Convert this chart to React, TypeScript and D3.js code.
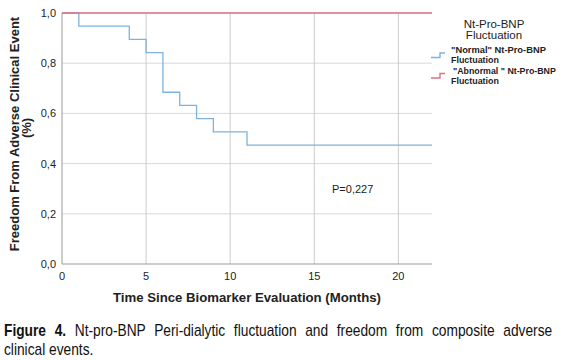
import React, { useEffect, useRef } from "react";
import * as d3 from "d3";

const normalTimes = [0, 1, 4, 5, 6, 7, 8, 9, 11, 22];
const normalSurv = [1, 18 / 19, 17 / 19, 16 / 19, 13 / 19, 12 / 19, 11 / 19, 10 / 19, 9 / 19, 9 / 19];
const abnormalTimes = [0, 22];
const abnormalSurv = [1, 1];
const xTicks = [0, 5, 10, 15, 20];
const yTicks = [0, 0.2, 0.4, 0.6, 0.8, 1.0];

const BLUE = "#7fb3dc";
const RED = "#e07080";

export default function App() {
  const ref = useRef<SVGSVGElement>(null);

  useEffect(() => {
    const svg = d3.select(ref.current);
    svg.selectAll("*").remove();

    const x = d3.scaleLinear().domain([0, 22]).range([62, 432]);
    const y = d3.scaleLinear().domain([0, 1]).range([264, 13]);
    const font = "Liberation Sans, Arial, sans-serif";

    // gridlines
    svg.append("g")
      .selectAll("line")
      .data(yTicks.filter((d) => d > 0))
      .join("line")
      .attr("x1", x(0)).attr("x2", x(22))
      .attr("y1", (d) => y(d)).attr("y2", (d) => y(d))
      .attr("stroke", "#d9d9e0").attr("stroke-width", 1);
    svg.append("g")
      .selectAll("line")
      .data(xTicks.filter((d) => d > 0))
      .join("line")
      .attr("x1", (d) => x(d)).attr("x2", (d) => x(d))
      .attr("y1", y(0)).attr("y2", y(1))
      .attr("stroke", "#cbcbcb").attr("stroke-width", 1);

    // axes lines
    svg.append("line").attr("x1", x(0)).attr("x2", x(22)).attr("y1", y(0)).attr("y2", y(0))
      .attr("stroke", "#9a9a9a").attr("stroke-width", 1);
    svg.append("line").attr("x1", x(0)).attr("x2", x(0)).attr("y1", y(0)).attr("y2", y(1))
      .attr("stroke", "#9a9a9a").attr("stroke-width", 1);

    // tick labels
    svg.append("g").selectAll("text").data(yTicks).join("text")
      .attr("x", 56).attr("y", (d) => y(d) + 4)
      .attr("text-anchor", "end")
      .attr("font-family", font).attr("font-size", 11).attr("fill", "#222")
      .text((d) => d3.format(".1f")(d).replace(".", ","));
    svg.append("g").selectAll("text").data(xTicks).join("text")
      .attr("x", (d) => x(d)).attr("y", 280)
      .attr("text-anchor", "middle")
      .attr("font-family", font).attr("font-size", 11).attr("fill", "#222")
      .text((d) => String(d));

    // curves
    const line = d3.line<[number, number]>()
      .x((d) => x(d[0])).y((d) => y(d[1]))
      .curve(d3.curveStepAfter);
    svg.append("path")
      .attr("d", line(normalTimes.map((t, i) => [t, normalSurv[i]]) as [number, number][]))
      .attr("fill", "none").attr("stroke", BLUE).attr("stroke-width", 1.3);
    svg.append("path")
      .attr("d", line(abnormalTimes.map((t, i) => [t, abnormalSurv[i]]) as [number, number][]))
      .attr("fill", "none").attr("stroke", RED).attr("stroke-width", 1.3);

    // p value
    svg.append("text").attr("x", 332).attr("y", 193)
      .attr("font-family", font).attr("font-size", 11).attr("fill", "#222")
      .text("P=0,227");

    // axis titles
    svg.append("text")
      .attr("x", 247).attr("y", 302).attr("text-anchor", "middle")
      .attr("font-family", font).attr("font-size", 13.2).attr("font-weight", "bold").attr("fill", "#222")
      .text("Time Since Biomarker Evaluation (Months)");
    const yt = svg.append("text")
      .attr("transform", "translate(19,134) rotate(-90)")
      .attr("text-anchor", "middle")
      .attr("font-family", font).attr("font-size", 13).attr("font-weight", "bold").attr("fill", "#222");
    yt.append("tspan").attr("x", 0).attr("y", 0).text("Freedom From Adverse Clinical Event");
    yt.append("tspan").attr("x", 6).attr("y", 12).text("(%)");

    // legend
    const lt = svg.append("text").attr("text-anchor", "middle")
      .attr("font-family", font).attr("font-size", 11.5).attr("fill", "#222");
    lt.append("tspan").attr("x", 494).attr("y", 28).text("Nt-Pro-BNP");
    lt.append("tspan").attr("x", 494).attr("y", 39).text("Fluctuation");

    // condensed text helper: scale horizontally to a target width
    const condensed = (
      tx: number, ty: number, str: string, targetW: number,
      size: number, weight: string, fill: string
    ) => {
      const g = svg.append("g");
      const t = g.append("text").attr("x", 0).attr("y", 0)
        .attr("font-family", font).attr("font-size", size)
        .attr("font-weight", weight).attr("fill", fill).text(str);
      const w = (t.node() as SVGTextElement).getComputedTextLength();
      const s = w > 0 ? targetW / w : 0.8;
      g.attr("transform", `translate(${tx},${ty}) scale(${s},1)`);
    };

    const items = [
      { label1: "\"Normal\" Nt-Pro-BNP", color: BLUE, yLow: 57.5, ty: 53, tx: 451, w1: 95 },
      { label1: "\"Abnormal \" Nt-Pro-BNP", color: RED, yLow: 78, ty: 74, tx: 453, w1: 103 },
    ];
    items.forEach((it) => {
      svg.append("path")
        .attr("d", `M431,${it.yLow}H440V${it.yLow - 4.5}H445`)
        .attr("fill", "none").attr("stroke", it.color).attr("stroke-width", 1.4);
      condensed(it.tx, it.ty, it.label1, it.w1, 9.5, "bold", "#222");
      condensed(451, it.ty + 9.5, "Fluctuation", 48, 9.5, "bold", "#222");
    });

    // caption (condensed via horizontal scaling, justified first line)
    const sx = 0.86;
    const capG = svg.append("g").attr("transform", `translate(4,0) scale(${sx},1)`);
    const cap = capG.append("text")
      .attr("x", 0).attr("y", 336)
      .attr("font-family", font).attr("font-size", 16).attr("fill", "#111");
    cap.append("tspan").attr("font-weight", "bold").text("Figure 4.");
    cap.append("tspan").text(" Nt-pro-BNP Peri-dialytic fluctuation and freedom from composite adverse");
    const node = cap.node() as SVGTextElement;
    const w = node.getComputedTextLength();
    const gaps = 10;
    const target = (557 - 4) / sx;
    if (w > 0) cap.attr("word-spacing", Math.max(0, (target - w) / gaps));
    capG.append("text")
      .attr("x", 0).attr("y", 355)
      .attr("font-family", font).attr("font-size", 16).attr("fill", "#111")
      .text("clinical events.");
  }, []);

  return (
    <svg ref={ref} width={562} height={360} style={{ position: "absolute", left: 0, top: 0, background: "#fff" }} />
  );
}
